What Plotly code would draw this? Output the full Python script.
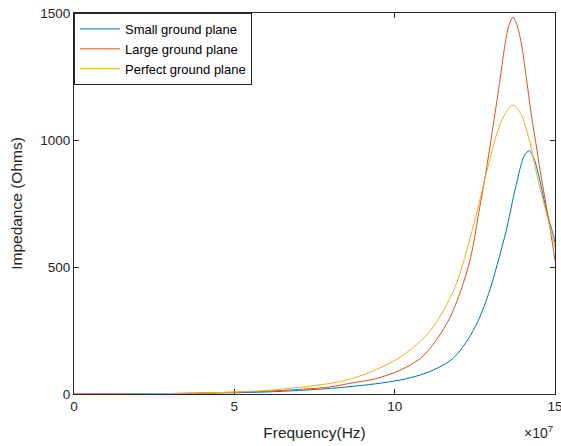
import plotly.graph_objects as go

# Frequency sweep points (Hz) and impedance magnitudes (Ohms) per antenna setup
freq_small = [0, 2e7, 3e7, 4e7, 5e7, 6e7, 7e7, 8e7, 8.6e7, 9.4e7, 10.17e7, 10.8e7,
              11.2e7, 11.72e7, 11.97e7, 12.25e7, 12.45e7, 12.66e7, 12.93e7, 13.2e7,
              13.5e7, 13.72e7, 13.96e7, 14.05e7, 14.2e7, 14.35e7, 14.5e7, 14.74e7,
              14.96e7, 15e7]
z_small = [0, 0.5, 1.5, 3, 5, 8, 14, 22, 29, 40, 55, 75,
           94, 130, 160, 208, 250, 304, 395, 510,
           655, 785, 910, 940, 958, 925, 856, 718,
           620, 595]

freq_large = [0, 2e7, 3e7, 4e7, 5e7, 6e7, 7e7, 8e7, 8.6e7, 9.4e7, 10.17e7, 10.8e7,
              11.2e7, 11.72e7, 12.14e7, 12.4e7, 12.6e7, 12.84e7, 13.05e7, 13.27e7,
              13.43e7, 13.56e7, 13.69e7, 13.82e7, 13.95e7, 14.1e7, 14.25e7, 14.4e7,
              14.55e7, 14.7e7, 14.85e7, 15e7]
z_large = [0, 1, 2, 4, 7, 11, 18, 28, 42, 60, 94, 140,
           195, 300, 436, 555, 698, 869, 1039, 1223,
           1367, 1450, 1483, 1450, 1380, 1250, 1110, 990,
           870, 760, 650, 525]

freq_perfect = [0, 2e7, 3e7, 4e7, 5e7, 6e7, 7e7, 8e7, 8.6e7, 9.4e7, 10.17e7, 10.95e7,
                11.41e7, 11.93e7, 12.3e7, 12.53e7, 12.8e7, 13.0e7, 13.2e7, 13.45e7,
                13.69e7, 13.95e7, 14.1e7, 14.2e7, 14.47e7, 14.76e7, 15e7]
z_perfect = [0, 0.5, 2, 4, 8, 14, 26, 42, 58, 95, 145, 226,
             304, 436, 590, 698, 840, 940, 1030, 1105,
             1137, 1100, 1045, 1000, 843, 698, 578]

x_tickvals = [0, 5e7, 10e7, 15e7]
x_ticktext = ["0", "5", "10", "15"]
y_tickvals = [0, 500, 1000, 1500]

series = [
    ("Small ground plane", freq_small, z_small, "#0072BD"),
    ("Large ground plane", freq_large, z_large, "#D95319"),
    ("Perfect ground plane", freq_perfect, z_perfect, "#EDB120"),
]

INK = "#262626"
FONT = "Liberation Sans, Arial, Helvetica, sans-serif"

fig = go.Figure()
for name, f, z, color in series:
    fig.add_trace(go.Scatter(
        x=f, y=z, mode="lines", name=name,
        line=dict(color=color, width=1, shape="spline", smoothing=0.9),
    ))

axis_common = dict(
    showgrid=False, zeroline=False,
    showline=True, linecolor=INK, linewidth=1, mirror="ticks",
    ticks="inside", ticklen=5, tickcolor=INK, tickwidth=1,
    tickfont=dict(family=FONT, size=13.5, color=INK),
    ticklabeloverflow="allow", automargin=False,
    layer="below traces",
)

fig.update_layout(
    width=561, height=446,
    margin=dict(l=74, r=6, t=13, b=52, autoexpand=False),
    paper_bgcolor="white", plot_bgcolor="white",
    font=dict(family=FONT, color=INK),
    xaxis=dict(
        range=[0, 15e7], tickvals=x_tickvals, ticktext=x_ticktext,
        title=dict(text="Frequency(Hz)", font=dict(family=FONT, size=15.5, color=INK), standoff=13),
        **axis_common,
    ),
    yaxis=dict(
        range=[0, 1500], tickvals=y_tickvals,
        title=dict(text="Impedance (Ohms)", font=dict(family=FONT, size=15.5, color=INK), standoff=13),
        **axis_common,
    ),
    legend=dict(
        x=0, y=1, xanchor="left", yanchor="top",
        bgcolor="white", bordercolor=INK, borderwidth=1,
        font=dict(family=FONT, size=13, color="#000000"),
        tracegroupgap=0, itemwidth=40,
    ),
    showlegend=True,
)

fig.add_annotation(
    text="×10<sup>7</sup>", xref="paper", yref="paper",
    x=1.0, y=-0.1, xanchor="right", yanchor="middle",
    showarrow=False, font=dict(family=FONT, size=14, color=INK),
)

fig.write_html("out.html")
